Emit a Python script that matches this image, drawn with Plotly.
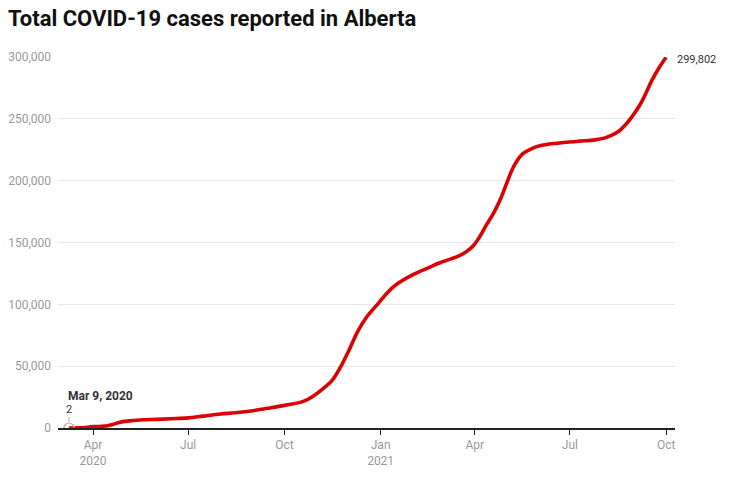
import plotly.graph_objects as go

dates = [
    "2020-03-09", "2020-03-15", "2020-03-22", "2020-04-01", "2020-04-10", "2020-04-15",
    "2020-04-20", "2020-04-25", "2020-05-01", "2020-05-10", "2020-05-20", "2020-06-01",
    "2020-06-15", "2020-07-01", "2020-07-15", "2020-08-01", "2020-08-15", "2020-09-01",
    "2020-09-17", "2020-10-01", "2020-10-19", "2020-10-28", "2020-11-07", "2020-11-16",
    "2020-11-24", "2020-12-02", "2020-12-10", "2020-12-18", "2020-12-31", "2021-01-07",
    "2021-01-16", "2021-02-01", "2021-02-17", "2021-02-26", "2021-03-10", "2021-03-18",
    "2021-03-24", "2021-03-31", "2021-04-06", "2021-04-12", "2021-04-19", "2021-04-25",
    "2021-05-01", "2021-05-06", "2021-05-11", "2021-05-17", "2021-05-25", "2021-06-02",
    "2021-06-11", "2021-06-25", "2021-07-10", "2021-07-25", "2021-08-05", "2021-08-16",
    "2021-08-24", "2021-08-30", "2021-09-06", "2021-09-12", "2021-09-18", "2021-09-25",
    "2021-10-01",
]
cases = [
    2, 56, 259, 1075, 1451, 1870,
    2908, 4233, 5355, 6098, 6683, 7010,
    7530, 8200, 9600, 11300, 12300, 14000,
    16200, 18300, 21500, 25500, 31800, 39000,
    49800, 63300, 78000, 89000, 102000, 109000,
    116000, 124000, 130000, 133400, 137000, 139600,
    142600, 147800, 155000, 164000, 173800, 184000,
    196700, 207500, 215500, 221800, 225800, 228200,
    229600, 230900, 232000, 233000, 235000, 239600,
    246000, 252500, 261400, 271300, 282100, 292300,
    299802,
]

x_tick_vals = ["2020-04-01", "2020-07-01", "2020-10-01", "2021-01-01",
               "2021-04-01", "2021-07-01", "2021-10-01"]
x_tick_text = ["Apr<br>2020", "Jul", "Oct", "Jan<br>2021", "Apr", "Jul", "Oct"]
y_tick_vals = [0, 50000, 100000, 150000, 200000, 250000, 300000]

title_text = "Total COVID-19 cases reported in Alberta"
first_label = "Mar 9, 2020"

FONT = "Roboto, Arial, sans-serif"

fig = go.Figure()
fig.add_trace(go.Scatter(
    x=dates, y=cases, mode="lines",
    line=dict(color="#dc0000", width=3.6, shape="spline", smoothing=1.0),
    hoverinfo="skip",
))
fig.add_trace(go.Scatter(
    x=[dates[0]], y=[cases[0]], mode="markers",
    marker=dict(size=10, color="rgba(255,255,255,0)",
                line=dict(color="#c8a0a0", width=1.2)),
    hoverinfo="skip",
))

fig.add_annotation(
    x=dates[0], y=cases[0], text=f"{cases[0]:,}", showarrow=True,
    arrowhead=0, arrowwidth=1, arrowcolor="#aaaaaa", ax=0, ay=-19,
    standoff=6, font=dict(family=FONT, size=11, color="#333333"),
)
fig.add_annotation(
    x=dates[0], y=cases[0], text=f"<b>{first_label}</b>", showarrow=False,
    xanchor="left", yanchor="middle", xshift=-3, yshift=32,
    font=dict(family=FONT, size=12, color="#333333"),
)
fig.add_annotation(
    x=dates[-1], y=cases[-1], text=f"{cases[-1]:,}", showarrow=False,
    xanchor="left", yanchor="middle", xshift=9, yshift=-2,
    font=dict(family=FONT, size=11, color="#333333"),
)

fig.update_layout(
    width=730, height=483,
    margin=dict(l=58, r=55, t=57, b=55),
    paper_bgcolor="white", plot_bgcolor="white",
    showlegend=False,
    font=dict(family=FONT, size=12, color="#999999"),
    title=dict(text=f"<b>{title_text}</b>", x=0.011, xanchor="left",
               xref="container", y=0.962, yref="container", yanchor="middle",
               font=dict(family=FONT, size=22, color="#111111")),
    xaxis=dict(
        type="date", range=["2020-02-27 12:00", "2021-10-09 12:00"],
        tickvals=x_tick_vals, ticktext=x_tick_text,
        showgrid=False, zeroline=False, automargin=False,
        showline=True, linecolor="#222222", linewidth=1.5,
        ticks="outside", ticklen=5, tickcolor="#222222", tickwidth=1.2,
        tickfont=dict(family=FONT, size=12, color="#999999"),
    ),
    yaxis=dict(
        range=[0, 300000], tickvals=y_tick_vals, tickformat=",",
        showgrid=True, gridcolor="#e6e6e6", gridwidth=1,
        zeroline=False, showline=False, ticks="", automargin=False,
        ticklabelstandoff=6,
        tickfont=dict(family=FONT, size=12, color="#999999"),
    ),
)

fig.write_html("out.html", config={"displayModeBar": False},
               post_script="document.body.style.margin='0';")
